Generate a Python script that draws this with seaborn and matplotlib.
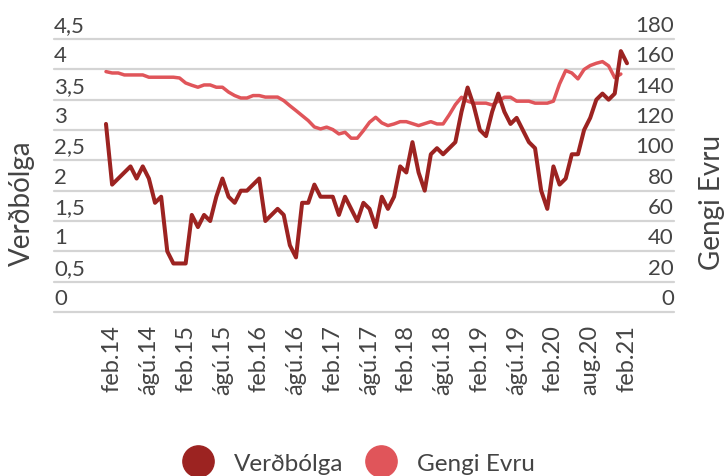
import matplotlib
matplotlib.use('Agg')
import matplotlib.pyplot as plt
import matplotlib.transforms as mtransforms
from matplotlib.lines import Line2D
import numpy as np
import pandas as pd
import seaborn as sns

sns.set_style('white')
plt.rcParams['font.family'] = ['Lato', 'DejaVu Sans']

# Monthly data, jan.14 - feb.21
verdbolga = [
    3.1, 2.1, 2.2, 2.3, 2.4, 2.2, 2.4, 2.2, 1.8, 1.9, 1.0, 0.8,   # 2014
    0.8, 0.8, 1.6, 1.4, 1.6, 1.5, 1.9, 2.2, 1.9, 1.8, 2.0, 2.0,   # 2015
    2.1, 2.2, 1.5, 1.6, 1.7, 1.6, 1.1, 0.9, 1.8, 1.8, 2.1, 1.9,   # 2016
    1.9, 1.9, 1.6, 1.9, 1.7, 1.5, 1.8, 1.7, 1.4, 1.9, 1.7, 1.9,   # 2017
    2.4, 2.3, 2.8, 2.3, 2.0, 2.6, 2.7, 2.6, 2.7, 2.8, 3.3, 3.7,   # 2018
    3.4, 3.0, 2.9, 3.3, 3.6, 3.3, 3.1, 3.2, 3.0, 2.8, 2.7, 2.0,   # 2019
    1.7, 2.4, 2.1, 2.2, 2.6, 2.6, 3.0, 3.2, 3.5, 3.6, 3.5, 3.6,   # 2020
    4.3, 4.1,                                                     # 2021
]

# Gengi Evru ends one month earlier (jan.21)
gengi_evru = [
    158.5, 157.6, 157.6, 156.3, 156.3, 156.3, 156.3, 154.8, 154.8, 154.8, 154.8, 154.8,
    154.3, 151.0, 149.5, 148.2, 149.7, 149.7, 148.2, 148.2, 145.0, 142.7, 141.1, 141.1,
    142.7, 142.7, 141.7, 141.7, 141.7, 139.4, 136.0, 132.8, 129.5, 126.2, 122.0, 120.7,
    121.9, 120.3, 117.4, 118.5, 114.6, 114.6, 119.6, 125.1, 128.4, 124.7, 122.9, 124.0,
    125.5, 125.5, 124.2, 122.9, 124.2, 125.5, 124.0, 124.0, 130.0, 136.7, 141.6, 139.0,
    137.7, 137.7, 137.7, 136.5, 139.0, 141.6, 141.6, 139.0, 139.0, 139.0, 137.7, 137.7,
    137.7, 139.0, 150.4, 159.2, 157.6, 153.7, 159.9, 162.5, 164.0, 165.1, 162.3, 154.5,
    156.9,
]

x_labels = ['feb.14', 'ágú.14', 'feb.15', 'ágú.15', 'feb.16', 'ágú.16', 'feb.17',
            'ágú.17', 'feb.18', 'ágú.18', 'feb.19', 'ágú.19', 'feb.20', 'aug.20', 'feb.21']

left_ticks = np.arange(0, 4.51, 0.5)
right_ticks = np.arange(0, 181, 20)

DARK = '#9c2321'
LIGHT = '#e0555a'
TEXT = '#444444'
GRID = '#d4d4d4'

df = pd.DataFrame({
    't': range(len(verdbolga)),
    'Verðbólga': verdbolga,
    'Gengi Evru': gengi_evru + [np.nan] * (len(verdbolga) - len(gengi_evru)),
})

fig = plt.figure(figsize=(7.27, 4.77), dpi=100)
ax = fig.add_axes([54 / 727, 1 - 313 / 477, 620 / 727, 273 / 477])
axr = ax.twinx()
# left axis (dark line) drawn on top, gridlines live on the right axis underneath
ax.set_zorder(axr.get_zorder() + 1)
ax.patch.set_visible(False)

sns.lineplot(data=df, x='t', y='Gengi Evru', ax=axr, color=LIGHT, lw=2.5)
sns.lineplot(data=df, x='t', y='Verðbólga', ax=ax, color=DARK, lw=2.9)

ax.set_xlim(-8.48, 92.67)
ax.set_ylim(0, 4.5)
axr.set_ylim(0, 180)

for a in (ax, axr):
    for s in a.spines.values():
        s.set_visible(False)

axr.grid(axis='y', color=GRID, linewidth=1.6)
axr.set_axisbelow(True)

ax.set_xticks(range(1, len(verdbolga), 6))
ax.set_xticklabels(x_labels, rotation=90, fontsize=17, color=TEXT)
ax.tick_params(axis='x', length=0, pad=8.5)
ax.set_xlabel('')

ax.set_yticks(left_ticks)
ax.set_yticklabels([f'{v:g}'.replace('.', ',') for v in left_ticks],
                   ha='left', fontsize=16, color=TEXT)
ax.tick_params(axis='y', length=0, pad=0)

axr.set_yticks(right_ticks)
axr.set_yticklabels([str(v) for v in right_ticks], ha='right', fontsize=16, color=TEXT)
axr.tick_params(axis='y', length=0, pad=0)

for gl in axr.get_ygridlines():
    gl.set_clip_on(False)

# tick labels sit above their gridlines
up = mtransforms.ScaledTranslation(0, 0.16, fig.dpi_scale_trans)
for lab in ax.get_yticklabels() + axr.get_yticklabels():
    lab.set_transform(lab.get_transform() + up)

ax.set_ylabel('Verðbólga', fontsize=20, color=TEXT, va='center')
ax.yaxis.set_label_coords(-0.0516, 0.403)
axr.set_ylabel('Gengi Evru', fontsize=20, color=TEXT, va='center')
axr.yaxis.set_label_coords(1.062, 0.405)

handles = [
    Line2D([], [], ls='none', marker='o', ms=22.5, color=DARK, label='Verðbólga'),
    Line2D([], [], ls='none', marker='o', ms=22.5, color=LIGHT, label='Gengi Evru'),
]
fig.legend(handles=handles, loc='center left', bbox_to_anchor=(180 / 727, 13 / 477),
           ncol=2, frameon=False, fontsize=17.5, labelcolor=TEXT,
           handlelength=1.45, handletextpad=0.75, columnspacing=0.85,
           borderpad=0, borderaxespad=0)

fig.savefig('out.png', dpi=100)
